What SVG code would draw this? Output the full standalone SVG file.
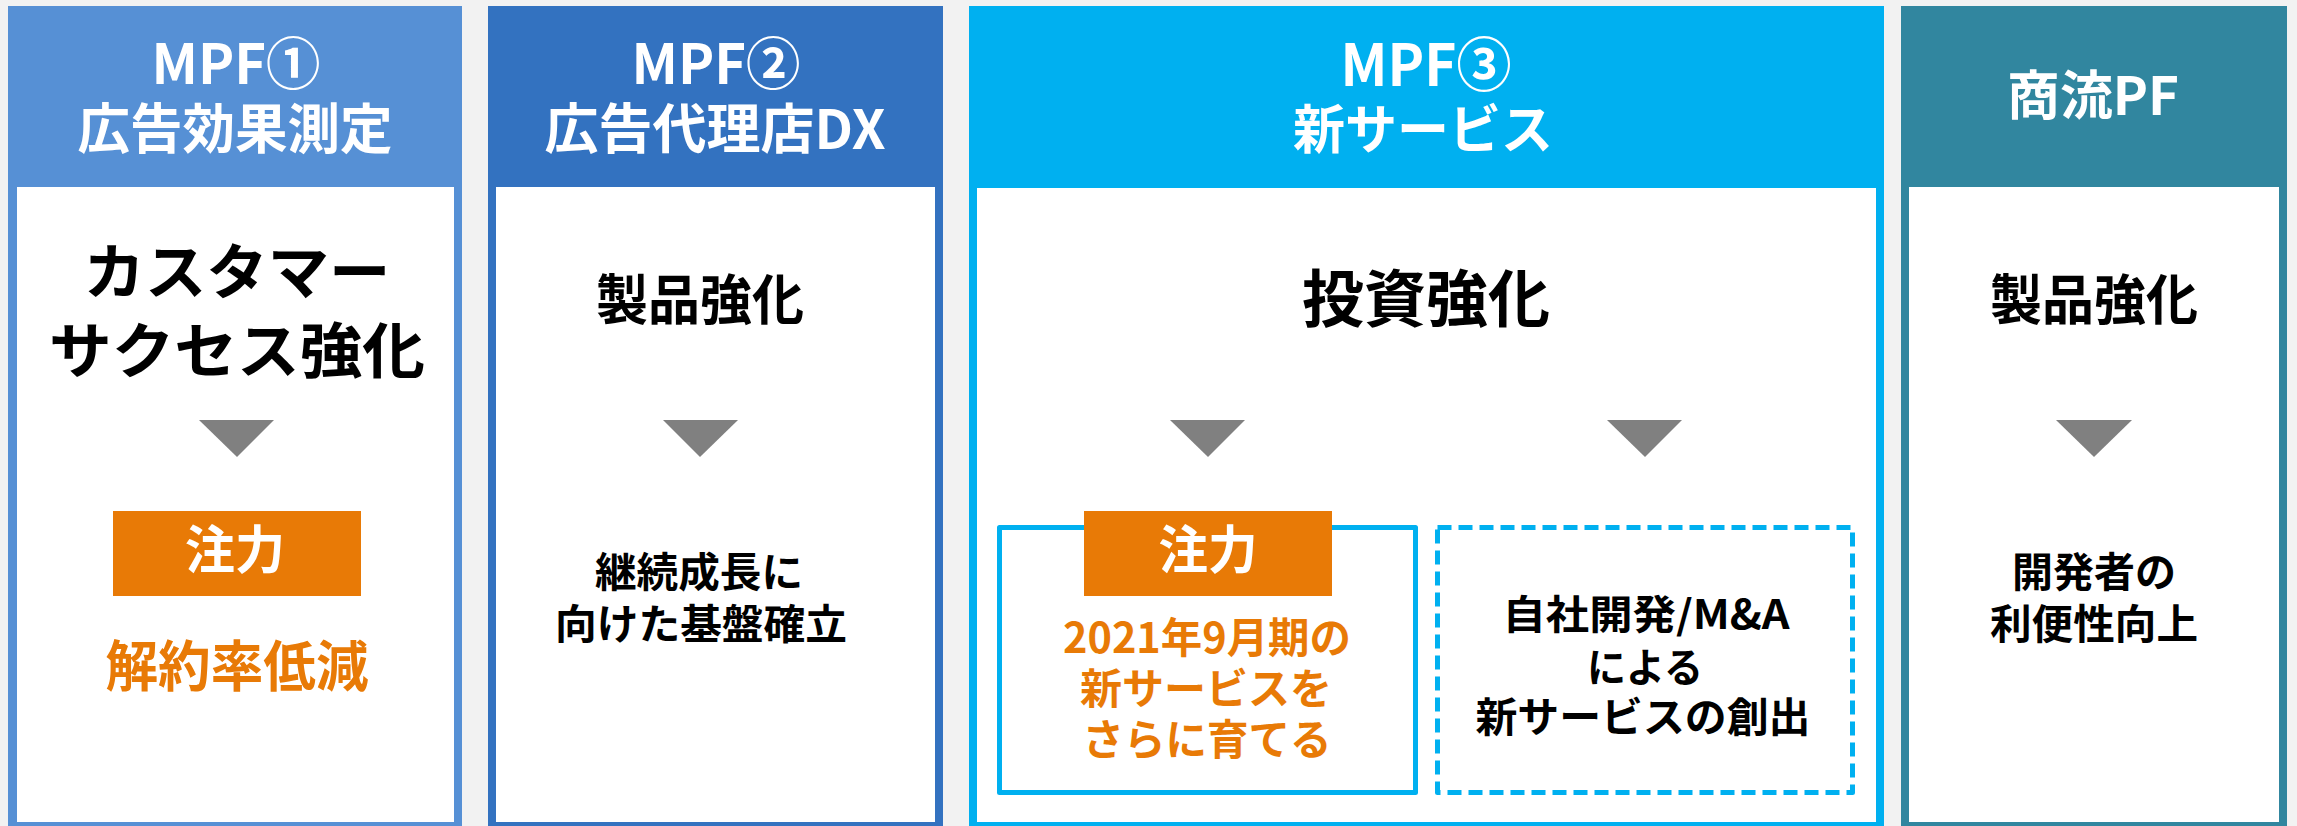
<svg xmlns="http://www.w3.org/2000/svg" width="2297" height="826" viewBox="0 0 2297 826">
<style>
text{font-family:"Noto Sans CJK JP","Noto Sans",sans-serif;font-weight:700;text-anchor:middle}
.hd{fill:#ffffff}
.bk{fill:#000000}
.or{fill:#E87A06}
.wt{fill:#ffffff}
.tri{fill:#808080}
.inner{fill:#ffffff}
.obox{fill:#E87A06}
</style>
<rect x="0" y="0" width="2297" height="826" fill="#F2F2F2"/>

<g id="panel-mpf1">
<rect x="8" y="6" width="454" height="830" fill="#5690D5"/>
<rect class="inner" x="17" y="187" width="437" height="635"/>
<text class="hd" x="236" y="84" font-size="56" textLength="169" lengthAdjust="spacingAndGlyphs">MPF①</text>
<text class="hd" x="235" y="149" font-size="54" textLength="315" lengthAdjust="spacingAndGlyphs">広告効果測定</text>
<text class="bk" x="237" y="294" font-size="60" textLength="307" lengthAdjust="spacingAndGlyphs">カスタマー</text>
<text class="bk" x="237" y="373" font-size="60" textLength="376" lengthAdjust="spacingAndGlyphs">サクセス強化</text>
<rect class="obox" x="113" y="511" width="248" height="85"/>
<text class="wt" x="235" y="569" font-size="52" textLength="100" lengthAdjust="spacingAndGlyphs">注力</text>
<text class="or" x="237" y="686" font-size="55" textLength="263" lengthAdjust="spacingAndGlyphs">解約率低減</text>
</g>

<g id="panel-mpf2">
<rect x="488" y="6" width="455" height="830" fill="#3372C0"/>
<rect class="inner" x="496" y="187" width="439" height="635"/>
<text class="hd" x="716" y="84" font-size="56" textLength="169" lengthAdjust="spacingAndGlyphs">MPF②</text>
<text class="hd" x="715" y="149" font-size="54" textLength="341" lengthAdjust="spacingAndGlyphs">広告代理店DX</text>
<text class="bk" x="700" y="320" font-size="54" textLength="208" lengthAdjust="spacingAndGlyphs">製品強化</text>
<text class="bk" x="699" y="587" font-size="41" textLength="208" lengthAdjust="spacingAndGlyphs">継続成長に</text>
<text class="bk" x="701" y="639" font-size="41" textLength="292" lengthAdjust="spacingAndGlyphs">向けた基盤確立</text>
</g>

<g id="panel-mpf3">
<rect x="969" y="6" width="915" height="830" fill="#00B0F0"/>
<rect class="inner" x="977" y="188" width="899" height="634"/>
<text class="hd" x="1426" y="86" font-size="58" textLength="171" lengthAdjust="spacingAndGlyphs">MPF③</text>
<text class="hd" x="1423" y="149" font-size="53" textLength="260" lengthAdjust="spacingAndGlyphs">新サービス</text>
<text class="bk" x="1426" y="322" font-size="62" textLength="248" lengthAdjust="spacingAndGlyphs">投資強化</text>
<g id="mpf3-focus">
<rect x="999.5" y="527.5" width="416" height="265" fill="#ffffff" stroke="#00B0F0" stroke-width="5" stroke-linejoin="round"/>
<rect class="obox" x="1084" y="511" width="248" height="85"/>
<text class="wt" x="1208" y="569" font-size="52" textLength="99" lengthAdjust="spacingAndGlyphs">注力</text>
<text class="or" x="1207" y="653" font-size="42" textLength="288" lengthAdjust="spacingAndGlyphs">2021年9月期の</text>
<text class="or" x="1206" y="704" font-size="42" textLength="252" lengthAdjust="spacingAndGlyphs">新サービスを</text>
<text class="or" x="1207" y="755" font-size="42" textLength="249" lengthAdjust="spacingAndGlyphs">さらに育てる</text>
</g>
<g id="mpf3-new">
<rect x="1437.5" y="527.5" width="415" height="265" fill="#ffffff" stroke="#00B0F0" stroke-width="5" stroke-dasharray="14 7" stroke-linejoin="round"/>
<text class="bk" x="1646" y="629" font-size="40" textLength="287" lengthAdjust="spacingAndGlyphs">自社開発/M&amp;A</text>
<text class="bk" x="1645" y="682" font-size="40" textLength="116" lengthAdjust="spacingAndGlyphs">による</text>
<text class="bk" x="1643" y="732" font-size="41" textLength="335" lengthAdjust="spacingAndGlyphs">新サービスの創出</text>
</g>
</g>

<g id="panel-commerce">
<rect x="1901" y="6" width="386" height="830" fill="#31869F"/>
<rect class="inner" x="1909" y="187" width="370" height="635"/>
<text class="hd" x="2093" y="115" font-size="53" textLength="172" lengthAdjust="spacingAndGlyphs">商流PF</text>
<text class="bk" x="2094" y="320" font-size="54" textLength="208" lengthAdjust="spacingAndGlyphs">製品強化</text>
<text class="bk" x="2094" y="587" font-size="41" textLength="164" lengthAdjust="spacingAndGlyphs">開発者の</text>
<text class="bk" x="2094" y="639" font-size="41" textLength="208" lengthAdjust="spacingAndGlyphs">利便性向上</text>
</g>

<g id="connectors">
<polygon class="tri" points="199,420 274,420 237,457"/>
<polygon class="tri" points="663,420 738,420 700,457"/>
<polygon class="tri" points="1170,420 1245,420 1208,457"/>
<polygon class="tri" points="1607,420 1682,420 1645,457"/>
<polygon class="tri" points="2056,420 2132,420 2094,457"/>
</g>
</svg>
